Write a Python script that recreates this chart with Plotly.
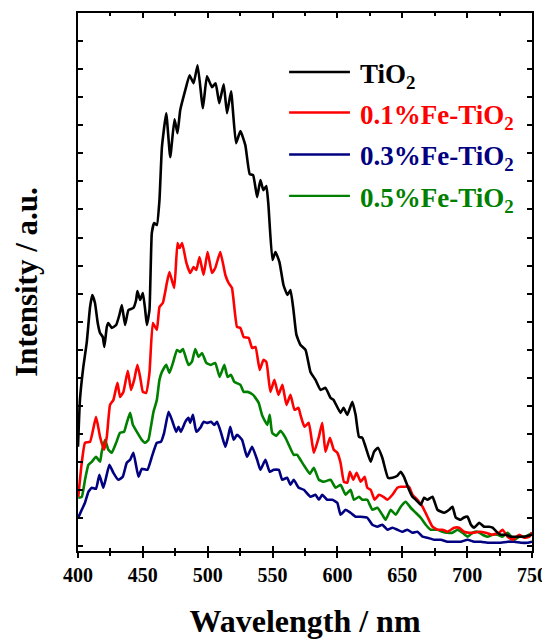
import plotly.graph_objects as go

# ---- data (wavelength in nm, intensity in arbitrary units) ----
wl_tio2 = [400.0, 401.5, 404.1, 406.7, 409.3, 411.0, 413.1, 415.2, 417.0, 419.1, 420.3, 422.2, 423.4, 426.0,
           429.4, 431.9, 433.8, 436.3, 438.9, 442.7, 444.8, 445.8, 447.9, 450.0, 451.8, 453.1, 455.1, 456.9,
           458.7, 460.8, 462.8, 464.7, 468.0, 471.1, 474.4, 476.7, 478.8, 482.7, 486.0, 489.1, 492.2, 496.3,
           499.4, 503.3, 506.1, 508.9, 512.3, 514.9, 518.0, 521.8, 525.2, 529.0, 532.4, 535.0, 538.1, 540.6,
           542.9, 545.2, 546.8, 549.9, 552.2, 555.3, 558.4, 561.5, 563.8, 566.1, 568.4, 571.5, 575.4, 579.2,
           583.1, 587.0, 590.8, 594.7, 597.0, 602.4, 604.7, 607.6, 611.5, 614.0, 616.6, 619.2, 621.7, 625.6,
           628.2, 631.2, 634.6, 639.0, 642.4, 646.2, 648.8, 651.3, 655.2, 657.8, 660.4, 664.2, 666.8, 669.4,
           673.3, 677.1, 682.2, 686.1, 688.7, 691.3, 695.1, 697.2, 700.3, 702.9, 705.4, 709.3, 713.1, 717.0,
           719.6, 723.5, 726.0, 729.9, 733.8, 738.9, 744.0, 750.0]
int_tio2 = [99, 146, 179, 203, 239, 251, 243, 223, 213, 209, 199, 219, 223, 218,
            221, 231, 241, 221, 236, 238, 246, 255, 246, 253, 236, 221, 236, 313,
            323, 321, 346, 399, 433, 389, 427, 413, 436, 456, 471, 463, 481, 438,
            470, 459, 463, 443, 462, 433, 455, 403, 415, 401, 372, 371, 349, 366,
            356, 360, 341, 286, 294, 284, 261, 251, 256, 236, 211, 201, 196, 174,
            166, 156, 158, 148, 146, 133, 138, 131, 144, 131, 109, 108, 99, 84,
            94, 98, 88, 68, 68, 70, 74, 69, 56, 49, 46, 41, 48, 46,
            49, 36, 33, 36, 39, 28, 26, 28, 29, 21, 18, 23, 19, 19,
            18, 13, 11, 11, 9, 9, 9, 11]

wl_fe01 = [400.2, 402.9, 405.4, 409.3, 413.9, 417.0, 420.1, 422.2, 424.7, 427.3, 430.4, 432.4, 435.0, 438.4,
           440.9, 443.3, 445.8, 447.9, 450.0, 452.5, 455.1, 457.7, 460.8, 462.8, 465.4, 468.5, 470.5, 474.2,
           476.7, 478.3, 480.3, 483.4, 486.5, 489.1, 491.2, 493.7, 496.8, 499.9, 503.3, 505.8, 509.7, 513.6,
           516.1, 518.7, 522.6, 525.2, 527.7, 531.6, 534.2, 536.8, 540.1, 542.9, 545.2, 548.3, 551.4, 554.5,
           557.6, 560.7, 563.8, 566.9, 570.0, 571.5, 574.6, 577.9, 581.8, 585.7, 588.3, 590.8, 594.2, 597.2,
           599.9, 602.4, 605.0, 607.6, 609.6, 612.2, 614.8, 617.9, 621.0, 623.0, 625.6, 628.7, 632.0, 635.4,
           638.5, 642.4, 646.2, 648.8, 651.3, 655.2, 657.8, 661.7, 665.6, 669.4, 673.3, 677.1, 681.0, 684.8,
           690.0, 693.8, 697.7, 701.5, 705.4, 709.3, 714.4, 719.6, 724.7, 727.3, 731.2, 735.1, 740.2, 744.0,
           747.9, 750.0]
int_fe01 = [49, 83, 103, 104, 129, 109, 96, 109, 141, 146, 163, 149, 154, 175,
            156, 166, 181, 169, 154, 153, 173, 223, 216, 239, 243, 263, 274, 258,
            303, 298, 303, 284, 273, 279, 276, 289, 271, 294, 273, 278, 294, 271,
            263, 258, 219, 218, 209, 208, 198, 199, 176, 186, 184, 154, 166, 151,
            161, 141, 151, 136, 138, 131, 119, 123, 93, 109, 123, 94, 108, 96,
            93, 83, 64, 63, 74, 66, 73, 64, 69, 58, 56, 46, 51, 49,
            46, 51, 58, 59, 59, 59, 51, 46, 39, 29, 19, 16, 16, 14,
            18, 18, 14, 13, 13, 14, 13, 11, 13, 16, 9, 6, 11, 8,
            9, 13]

wl_fe03 = [400.2, 402.9, 405.4, 408.0, 410.6, 413.9, 416.5, 419.5, 421.6, 424.2, 427.3, 431.1, 434.5, 437.6,
           440.2, 442.7, 446.6, 449.2, 453.5, 456.9, 460.8, 463.9, 466.4, 469.8, 472.4, 475.7, 477.5, 479.3,
           482.7, 485.2, 486.5, 488.6, 491.2, 494.3, 496.8, 499.4, 502.5, 505.1, 507.2, 510.3, 513.6, 515.7,
           517.4, 520.0, 522.6, 526.5, 530.3, 534.2, 538.1, 540.6, 544.5, 547.8, 550.9, 554.8, 557.4, 561.2,
           563.8, 566.3, 570.2, 574.1, 579.2, 583.1, 585.7, 588.3, 592.1, 596.0, 599.9, 602.4, 606.3, 610.1,
           614.0, 617.9, 623.0, 626.9, 630.8, 634.6, 638.5, 642.4, 646.2, 650.1, 653.9, 657.8, 661.7, 665.6,
           669.4, 674.5, 679.7, 684.8, 690.0, 695.1, 700.3, 705.4, 710.6, 715.8, 720.9, 726.0, 731.2, 736.4,
           741.5, 746.7, 750.0]
int_fe03 = [28, 36, 43, 54, 58, 57, 71, 58, 68, 81, 73, 66, 69, 83,
            86, 93, 69, 77, 76, 89, 103, 104, 113, 134, 126, 114, 119, 114,
            124, 128, 123, 131, 114, 118, 124, 123, 124, 121, 124, 113, 99, 109,
            119, 106, 111, 106, 89, 99, 86, 76, 86, 74, 76, 76, 66, 68,
            61, 66, 58, 56, 49, 51, 46, 51, 46, 46, 43, 31, 36, 33,
            29, 29, 28, 21, 19, 21, 16, 18, 16, 14, 16, 13, 14, 9,
            8, 6, 6, 4, 4, 4, 6, 4, 4, 3, 3, 3, 4, 4,
            3, 3, 4]

wl_fe05 = [400.2, 402.9, 405.4, 408.0, 410.6, 413.9, 417.0, 418.3, 420.9, 423.4, 426.0, 429.4, 432.4, 435.5,
           437.6, 440.2, 442.3, 445.4, 449.2, 451.8, 454.3, 456.2, 458.2, 460.8, 462.8, 464.7, 468.0, 470.5,
           473.2, 476.3, 478.8, 480.9, 483.4, 485.2, 487.8, 490.4, 492.9, 495.6, 498.9, 502.5, 505.8, 509.2,
           512.8, 515.3, 518.0, 520.5, 525.2, 527.7, 530.8, 535.0, 536.8, 539.3, 542.1, 546.0, 547.8, 549.7,
           553.0, 556.1, 560.0, 562.5, 566.3, 569.0, 571.5, 575.4, 578.7, 581.8, 585.7, 589.5, 594.7, 598.6,
           602.4, 606.3, 610.1, 612.7, 616.6, 619.2, 623.0, 626.9, 630.8, 634.6, 637.2, 641.1, 644.9, 648.8,
           652.6, 656.5, 660.4, 664.2, 668.1, 671.9, 677.1, 681.0, 684.8, 688.7, 692.6, 696.4, 700.3, 704.2,
           708.0, 711.9, 715.8, 719.6, 723.5, 727.3, 731.2, 736.4, 740.2, 744.0, 747.9, 750.0]
int_fe05 = [48, 49, 66, 81, 84, 89, 84, 94, 106, 96, 93, 103, 113, 114,
            123, 133, 121, 114, 106, 103, 106, 119, 134, 146, 166, 174, 181, 173,
            183, 196, 194, 197, 187, 181, 184, 197, 189, 193, 183, 181, 183, 169,
            181, 169, 171, 164, 161, 154, 154, 151, 148, 143, 130, 121, 131, 113,
            110, 115, 108, 101, 91, 91, 86, 78, 72, 78, 66, 64, 66, 58,
            61, 51, 56, 46, 49, 46, 46, 36, 38, 31, 26, 36, 31, 39,
            44, 38, 33, 28, 21, 16, 16, 14, 13, 13, 16, 13, 9, 13,
            14, 11, 9, 11, 11, 9, 13, 6, 9, 9, 11, 13]

x_ticks = [400, 450, 500, 550, 600, 650, 700, 750]
x_tick_labels = ["<b>%d</b>" % v for v in x_ticks]

names = ["TiO<sub>2</sub>", "0.1%Fe-TiO<sub>2</sub>", "0.3%Fe-TiO<sub>2</sub>", "0.5%Fe-TiO<sub>2</sub>"]
colors = ["#000000", "#ff0000", "#000080", "#008000"]
series = [(wl_tio2, int_tio2), (wl_fe01, int_fe01), (wl_fe03, int_fe03), (wl_fe05, int_fe05)]

FONT = "Liberation Serif"

fig = go.Figure()
# draw order: green, blue, red, black on top
for idx in [3, 2, 1, 0]:
    x, y = series[idx]
    fig.add_trace(go.Scatter(x=x, y=y, mode="lines", name=names[idx],
                             line=dict(color=colors[idx], width=2.6, shape="spline", smoothing=0.4),
                             showlegend=False))

# dummy overlay axis for the inward half of the bottom ticks
fig.add_trace(go.Scatter(x=[400, 750], y=[None, None], xaxis="x2", showlegend=False, hoverinfo="skip"))

# manual legend (line + coloured label)
leg_y = [0.8904, 0.815, 0.737, 0.660]
for i in range(4):
    fig.add_shape(type="line", xref="paper", yref="paper", x0=0.465, x1=0.599, y0=leg_y[i], y1=leg_y[i],
                  line=dict(color=colors[i], width=2.4))
    fig.add_annotation(xref="paper", yref="paper", x=0.617, y=leg_y[i], xanchor="left", yanchor="middle",
                       text="<b>" + names[i] + "</b>", showarrow=False, yshift=-4,
                       font=dict(family=FONT, size=27, color=colors[i]))

# margins compensate for the 8 px default page (body) margin of the html page
fig.update_layout(
    width=550, height=642,
    margin=dict(l=70, r=26, t=5, b=99, autoexpand=False),
    paper_bgcolor="white", plot_bgcolor="white",
    font=dict(family=FONT, color="black"),
    xaxis=dict(range=[400, 750], tickmode="array", tickvals=x_ticks, ticktext=x_tick_labels,
               ticks="outside", ticklen=5, tickwidth=2, tickcolor="black",
               minor=dict(dtick=25, tick0=400, ticks="outside", ticklen=3, tickwidth=2, tickcolor="black"),
               showline=True, linewidth=2, linecolor="black", mirror=True, automargin=False,
               showgrid=False, zeroline=False,
               tickfont=dict(family=FONT, size=20, color="black"),
               title=dict(text="<b>Wavelength / nm</b>", standoff=25,
                          font=dict(family=FONT, size=32, color="black"))),
    xaxis2=dict(range=[400, 750], overlaying="x", side="bottom", tickmode="linear", tick0=400, dtick=50,
                ticks="inside", ticklen=5, tickwidth=2, tickcolor="black", mirror="ticks",
                minor=dict(dtick=25, tick0=400, ticks="inside", ticklen=3, tickwidth=2, tickcolor="black"),
                showticklabels=False, showline=False, showgrid=False, zeroline=False, automargin=False),
    yaxis=dict(range=[-5.3, 533.3], tickmode="linear", tick0=0, dtick=28.05,
               ticks="inside", ticklen=5, tickwidth=2, tickcolor="black",
               showticklabels=False, showline=True, linewidth=2, linecolor="black", mirror="ticks",
               showgrid=False, zeroline=False, automargin=False,
               title=dict(text="<b>Intensity / a.u.</b>", standoff=29,
                          font=dict(family=FONT, size=31, color="black"))),
)

fig.write_html("out.html")
